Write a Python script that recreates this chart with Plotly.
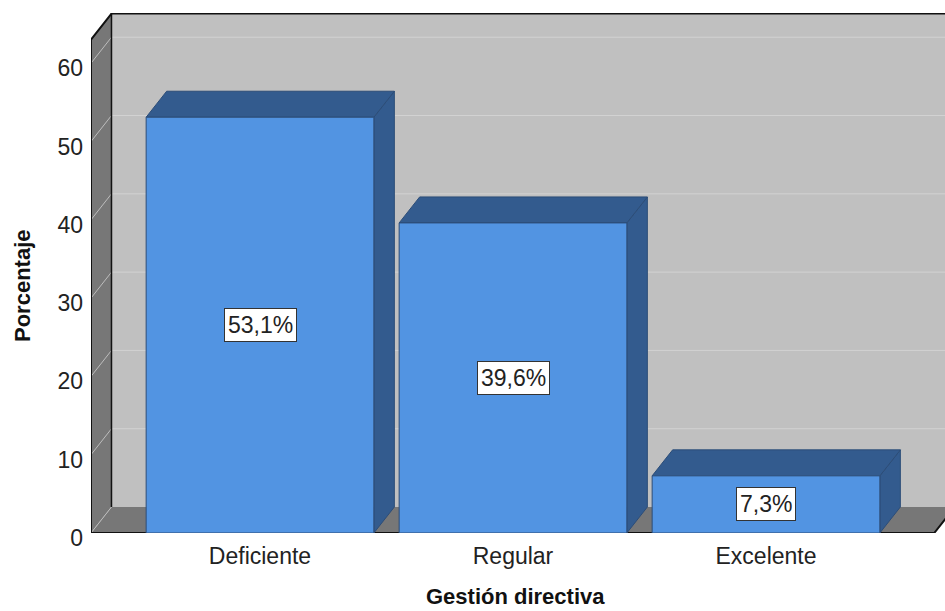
import plotly.graph_objects as go

# Data
categories = ["Deficiente", "Regular", "Excelente"]
percentages = [53.1, 39.6, 7.3]
value_labels = ["53,1%", "39,6%", "7,3%"]
y_ticks = [0, 10, 20, 30, 40, 50, 60]

# 3D box geometry (in axis units)
HALF_W = 0.45          # half bar width (category units)
DX, DY = 0.081, 3.32   # depth offset: x in category units, y in value units
LEFT, RIGHT = -0.668, 2.665
WALL_TOP = 63

FRONT = "#5294E2"
DARK = "#335B8E"
EDGE = "#2C4D78"
WALL = "#C0C0C0"
SIDE = "#777777"
FONT = "Liberation Sans, Arial, sans-serif"

fig = go.Figure()


def poly(xs, ys, fill, line_color=None, width=0):
    fig.add_trace(go.Scatter(
        x=xs + [xs[0]], y=ys + [ys[0]], mode="lines", fill="toself",
        fillcolor=fill, line=dict(color=line_color or fill, width=width),
        hoverinfo="skip", showlegend=False))


def seg(xs, ys, color, width):
    fig.add_trace(go.Scatter(x=xs, y=ys, mode="lines",
                             line=dict(color=color, width=width),
                             hoverinfo="skip", showlegend=False))


# back wall
poly([LEFT + DX, RIGHT + DX + 1, RIGHT + DX + 1, LEFT + DX],
     [DY, DY, WALL_TOP + DY, WALL_TOP + DY], WALL)
# left wall
poly([LEFT, LEFT, LEFT + DX, LEFT + DX],
     [0, WALL_TOP, WALL_TOP + DY, DY], SIDE)
# floor
poly([LEFT, RIGHT, RIGHT + DX, LEFT + DX], [0, 0, DY, DY], SIDE)

# gridlines on back wall and left wall
for t in y_ticks:
    if t > 0:
        seg([LEFT + DX, RIGHT + DX + 1], [t + DY, t + DY], "#D2D2D2", 1)
    seg([LEFT, LEFT + DX], [t, t + DY], "#BDBDBD", 1)

# frame edges
seg([LEFT + DX, LEFT + DX, RIGHT + DX + 1], [DY, WALL_TOP + DY, WALL_TOP + DY], "#111111", 1.5)
seg([LEFT + DX, LEFT, LEFT, RIGHT, RIGHT + DX],
    [WALL_TOP + DY, WALL_TOP, 0, 0, DY], "#111111", 2)

# bars
for i, v in enumerate(percentages):
    x0, x1 = i - HALF_W, i + HALF_W
    # right side face
    poly([x1, x1 + DX, x1 + DX, x1], [0, DY, v + DY, v], DARK, EDGE, 1)
    # top face
    poly([x0, x1, x1 + DX, x0 + DX], [v, v, v + DY, v + DY], DARK, EDGE, 1)
    # front face
    poly([x0, x1, x1, x0], [0, 0, v, v], FRONT, EDGE, 1)

# value labels in the middle of each bar
for i, (v, txt) in enumerate(zip(percentages, value_labels)):
    fig.add_annotation(x=i, y=v / 2, text=txt, showarrow=False,
                       font=dict(family=FONT, size=23, color="#222222"),
                       bgcolor="white", bordercolor="#333333", borderwidth=1,
                       borderpad=3)

# axis titles
fig.add_annotation(x=(515 - 91) / 854, y=-(596 - 533) / 533, xref="paper", yref="paper",
                   xanchor="center", yanchor="middle",
                   text="<b>Gestión directiva</b>", showarrow=False,
                   font=dict(family=FONT, size=22, color="#111111"))
fig.add_annotation(x=(22 - 91) / 854, y=(533 - 286) / 533, xref="paper", yref="paper",
                   xanchor="center", yanchor="middle",
                   text="<b>Porcentaje</b>", showarrow=False, textangle=-90,
                   font=dict(family=FONT, size=22, color="#111111"))

fig.update_layout(
    width=945, height=611,
    margin=dict(l=91, r=0, t=0, b=78),
    paper_bgcolor="white", plot_bgcolor="white",
    xaxis=dict(range=[LEFT, LEFT + 854 / 253], tickvals=[0, 1, 2], ticktext=categories,
               showgrid=False, zeroline=False, showline=False, ticks="",
               tickfont=dict(family=FONT, size=23, color="#222222"),
               ticklabelstandoff=7, fixedrange=True),
    yaxis=dict(range=[0, 533 / 7.83], tickvals=y_ticks,
               showgrid=False, zeroline=False, showline=False, ticks="",
               tickfont=dict(family=FONT, size=23, color="#222222"),
               ticklabelstandoff=7, ticklabelshift=5, fixedrange=True),
)

fig.write_html("out.html")
